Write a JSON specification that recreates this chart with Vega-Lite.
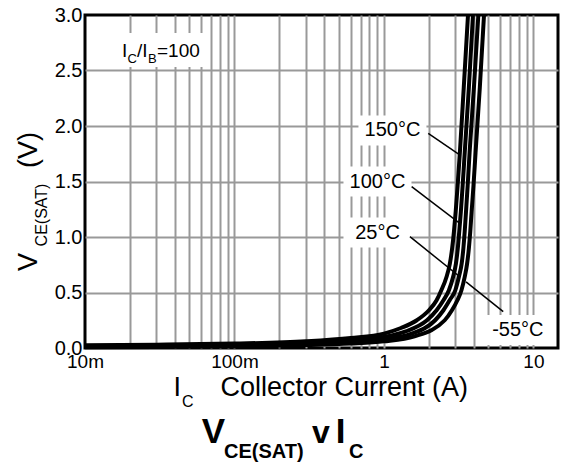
{
  "$schema": "https://vega.github.io/schema/vega-lite/v6.json",
  "width": 473,
  "height": 333,
  "autosize": {"type": "none"},
  "padding": {"left": 85, "top": 15, "right": 4, "bottom": 115},
  "background": "white",
  "config": {
    "view": {"stroke": "black", "strokeWidth": 3},
    "font": "Liberation Sans",
    "text": {"font": "Liberation Sans", "color": "black"}
  },
  "datasets": {
    "curves": [
      {"s": "150°C", "ic": 0.01, "v": 0.025}, {"s": "150°C", "ic": 0.03, "v": 0.03}, {"s": "150°C", "ic": 0.1, "v": 0.04}, {"s": "150°C", "ic": 0.3, "v": 0.06}, {"s": "150°C", "ic": 0.6, "v": 0.09}, {"s": "150°C", "ic": 1.0, "v": 0.13}, {"s": "150°C", "ic": 1.3, "v": 0.18}, {"s": "150°C", "ic": 1.66, "v": 0.25}, {"s": "150°C", "ic": 2.0, "v": 0.34}, {"s": "150°C", "ic": 2.25, "v": 0.43}, {"s": "150°C", "ic": 2.42, "v": 0.52}, {"s": "150°C", "ic": 2.62, "v": 0.64}, {"s": "150°C", "ic": 2.76, "v": 0.76}, {"s": "150°C", "ic": 2.86, "v": 0.9}, {"s": "150°C", "ic": 2.94, "v": 1.05}, {"s": "150°C", "ic": 3.02, "v": 1.23}, {"s": "150°C", "ic": 3.11, "v": 1.46}, {"s": "150°C", "ic": 3.22, "v": 1.76}, {"s": "150°C", "ic": 3.42, "v": 2.35}, {"s": "150°C", "ic": 3.65, "v": 3.0},
      {"s": "100°C", "ic": 0.01, "v": 0.018}, {"s": "100°C", "ic": 0.03, "v": 0.022}, {"s": "100°C", "ic": 0.1, "v": 0.03}, {"s": "100°C", "ic": 0.3, "v": 0.047}, {"s": "100°C", "ic": 0.6, "v": 0.07}, {"s": "100°C", "ic": 1.0, "v": 0.1}, {"s": "100°C", "ic": 1.4, "v": 0.15}, {"s": "100°C", "ic": 1.94, "v": 0.25}, {"s": "100°C", "ic": 2.25, "v": 0.34}, {"s": "100°C", "ic": 2.5, "v": 0.43}, {"s": "100°C", "ic": 2.72, "v": 0.52}, {"s": "100°C", "ic": 2.9, "v": 0.64}, {"s": "100°C", "ic": 3.03, "v": 0.76}, {"s": "100°C", "ic": 3.12, "v": 0.9}, {"s": "100°C", "ic": 3.19, "v": 1.05}, {"s": "100°C", "ic": 3.27, "v": 1.23}, {"s": "100°C", "ic": 3.36, "v": 1.46}, {"s": "100°C", "ic": 3.47, "v": 1.76}, {"s": "100°C", "ic": 3.7, "v": 2.35}, {"s": "100°C", "ic": 3.94, "v": 3.0},
      {"s": "25°C", "ic": 0.01, "v": 0.012}, {"s": "25°C", "ic": 0.03, "v": 0.016}, {"s": "25°C", "ic": 0.1, "v": 0.023}, {"s": "25°C", "ic": 0.3, "v": 0.036}, {"s": "25°C", "ic": 0.6, "v": 0.055}, {"s": "25°C", "ic": 1.0, "v": 0.08}, {"s": "25°C", "ic": 1.5, "v": 0.125}, {"s": "25°C", "ic": 2.2, "v": 0.25}, {"s": "25°C", "ic": 2.5, "v": 0.34}, {"s": "25°C", "ic": 2.75, "v": 0.43}, {"s": "25°C", "ic": 3.0, "v": 0.52}, {"s": "25°C", "ic": 3.17, "v": 0.64}, {"s": "25°C", "ic": 3.31, "v": 0.76}, {"s": "25°C", "ic": 3.4, "v": 0.9}, {"s": "25°C", "ic": 3.47, "v": 1.05}, {"s": "25°C", "ic": 3.54, "v": 1.23}, {"s": "25°C", "ic": 3.63, "v": 1.46}, {"s": "25°C", "ic": 3.74, "v": 1.76}, {"s": "25°C", "ic": 4.0, "v": 2.35}, {"s": "25°C", "ic": 4.28, "v": 3.0},
      {"s": "-55°C", "ic": 0.01, "v": 0.006}, {"s": "-55°C", "ic": 0.03, "v": 0.01}, {"s": "-55°C", "ic": 0.1, "v": 0.016}, {"s": "-55°C", "ic": 0.3, "v": 0.026}, {"s": "-55°C", "ic": 0.6, "v": 0.04}, {"s": "-55°C", "ic": 1.0, "v": 0.06}, {"s": "-55°C", "ic": 1.6, "v": 0.105}, {"s": "-55°C", "ic": 2.55, "v": 0.25}, {"s": "-55°C", "ic": 2.85, "v": 0.34}, {"s": "-55°C", "ic": 3.1, "v": 0.43}, {"s": "-55°C", "ic": 3.3, "v": 0.52}, {"s": "-55°C", "ic": 3.47, "v": 0.64}, {"s": "-55°C", "ic": 3.6, "v": 0.76}, {"s": "-55°C", "ic": 3.7, "v": 0.9}, {"s": "-55°C", "ic": 3.78, "v": 1.05}, {"s": "-55°C", "ic": 3.86, "v": 1.23}, {"s": "-55°C", "ic": 3.97, "v": 1.46}, {"s": "-55°C", "ic": 4.1, "v": 1.76}, {"s": "-55°C", "ic": 4.38, "v": 2.35}, {"s": "-55°C", "ic": 4.67, "v": 3.0}
    ],
    "labels": [
      {"t": "150°C", "ic": 1.14, "v": 1.96},
      {"t": "100°C", "ic": 0.905, "v": 1.5},
      {"t": "25°C", "ic": 0.905, "v": 1.04},
      {"t": "-55°C", "ic": 7.87, "v": 0.162}
    ],
    "leaders": [
      {"ic": 1.978, "v": 1.934, "ic2": 3.14, "v2": 1.748},
      {"ic": 1.532, "v": 1.453, "ic2": 3.22, "v2": 1.123},
      {"ic": 1.492, "v": 1.003, "ic2": 3.22, "v2": 0.642},
      {"ic": 3.54, "v": 0.595, "ic2": 6.28, "v2": 0.327}
    ]
  },
  "layer": [
    {
      "data": {"values": [{"ic": 0.031, "v": 2.685}]},
      "mark": {"type": "point", "shape": "M-1,-0.366H1V0.366H-1Z", "size": 8649, "filled": true, "fill": "white", "opacity": 1, "strokeWidth": 0},
      "encoding": {
        "x": {
          "field": "ic", "type": "quantitative",
          "scale": {"type": "log", "domain": [0.01, 14.6], "nice": false},
          "axis": {
            "title": null,
            "values": [0.01, 0.02, 0.03, 0.04, 0.05, 0.06, 0.07, 0.08, 0.09, 0.1, 0.2, 0.3, 0.4, 0.5, 0.6, 0.7, 0.8, 0.9, 1, 2, 3, 4, 5, 6, 7, 8, 9, 10],
            "labelExpr": "datum.value == 0.01 ? '10m' : datum.value == 0.1 ? '100m' : datum.value == 1 ? '1' : datum.value == 10 ? '10' : ''",
            "grid": true, "gridColor": "#999999", "gridWidth": 2,
            "gridOpacity": {"condition": {"test": "datum.value == 0.01", "value": 0}, "value": 1},
            "ticks": false, "domain": false,
            "labelFont": "Liberation Sans", "labelFontSize": 19, "labelColor": "black",
            "labelPadding": 4, "labelFlush": false, "labelOverlap": false, "labelBaseline": "top"
          }
        },
        "y": {
          "field": "v", "type": "quantitative",
          "scale": {"domain": [0, 3], "nice": false},
          "axis": {
            "title": null,
            "values": [0, 0.25, 0.5, 0.75, 1, 1.25, 1.5, 1.75, 2, 2.25, 2.5, 2.75, 3],
            "format": ".1f",
            "labelExpr": "datum.value % 0.5 == 0 ? datum.label : ''",
            "grid": true, "gridColor": "#999999", "gridWidth": 2,
            "gridOpacity": {"condition": {"test": "datum.value == 0 || datum.value == 3", "value": 0}, "value": 1},
            "ticks": false, "domain": false,
            "labelFont": "Liberation Sans", "labelFontSize": 20, "labelColor": "black",
            "labelPadding": 3, "labelFlush": false, "labelOverlap": false, "labelBaseline": "middle"
          }
        }
      }
    },
    {
      "data": {"name": "labels"},
      "mark": {"type": "point", "shape": "M-1,-0.44H1V0.44H-1Z", "size": 4624, "filled": true, "fill": "white", "opacity": 1, "strokeWidth": 0},
      "encoding": {
        "x": {"field": "ic", "type": "quantitative"},
        "y": {"field": "v", "type": "quantitative"}
      }
    },
    {
      "data": {"name": "curves"},
      "mark": {"type": "line", "color": "black", "strokeWidth": 4, "interpolate": "monotone"},
      "encoding": {
        "x": {"field": "ic", "type": "quantitative"},
        "y": {"field": "v", "type": "quantitative"},
        "detail": {"field": "s", "type": "nominal"}
      }
    },
    {
      "data": {"name": "leaders"},
      "mark": {"type": "rule", "color": "black", "strokeWidth": 1.5},
      "encoding": {
        "x": {"field": "ic", "type": "quantitative"},
        "y": {"field": "v", "type": "quantitative"},
        "x2": {"field": "ic2"},
        "y2": {"field": "v2"}
      }
    },
    {
      "data": {"name": "labels"},
      "mark": {"type": "text", "fontSize": 20, "align": "center", "baseline": "middle"},
      "encoding": {
        "x": {"field": "ic", "type": "quantitative"},
        "y": {"field": "v", "type": "quantitative"},
        "text": {"field": "t"}
      }
    },
    {
      "data": {"values": [{"t": "I", "ic": 0.01768, "v": 2.622}, {"t": "/I", "ic": 0.02227, "v": 2.622}, {"t": "=100", "ic": 0.03031, "v": 2.622}]},
      "mark": {"type": "text", "fontSize": 19, "align": "left", "baseline": "alphabetic"},
      "encoding": {
        "x": {"field": "ic", "type": "quantitative"},
        "y": {"field": "v", "type": "quantitative"},
        "text": {"field": "t"}
      }
    },
    {
      "data": {"values": [{"t": "C", "ic": 0.01924, "v": 2.568}, {"t": "B", "ic": 0.02639, "v": 2.568}]},
      "mark": {"type": "text", "fontSize": 13, "align": "left", "baseline": "alphabetic"},
      "encoding": {
        "x": {"field": "ic", "type": "quantitative"},
        "y": {"field": "v", "type": "quantitative"},
        "text": {"field": "t"}
      }
    },
    {
      "data": {"values": [{"t": "I", "ic": 0.03908, "v": -0.4324}, {"t": "Collector Current (A)", "ic": 0.08048, "v": -0.4324}]},
      "mark": {"type": "text", "fontSize": 27, "align": "left", "baseline": "alphabetic"},
      "encoding": {
        "x": {"field": "ic", "type": "quantitative"},
        "y": {"field": "v", "type": "quantitative"},
        "text": {"field": "t"}
      }
    },
    {
      "data": {"values": [{"t": "C", "ic": 0.04456, "v": -0.5315}]},
      "mark": {"type": "text", "fontSize": 16, "align": "left", "baseline": "alphabetic"},
      "encoding": {
        "x": {"field": "ic", "type": "quantitative"},
        "y": {"field": "v", "type": "quantitative"},
        "text": {"field": "t"}
      }
    },
    {
      "data": {"values": [{"t": "V", "ic": 0.004775, "v": 0.775}, {"t": "(V)", "ic": 0.004775, "v": 1.784}]},
      "mark": {"type": "text", "fontSize": 27, "align": "center", "baseline": "alphabetic", "angle": 270},
      "encoding": {
        "x": {"field": "ic", "type": "quantitative"},
        "y": {"field": "v", "type": "quantitative"},
        "text": {"field": "t"}
      }
    },
    {
      "data": {"values": [{"t": "CE(SAT)", "ic": 0.005568, "v": 1.198}]},
      "mark": {"type": "text", "fontSize": 16, "align": "center", "baseline": "alphabetic", "angle": 270},
      "encoding": {
        "x": {"field": "ic", "type": "quantitative"},
        "y": {"field": "v", "type": "quantitative"},
        "text": {"field": "t"}
      }
    },
    {
      "data": {"values": [{"t": "V", "ic": 0.0603, "v": -0.856}, {"t": "I", "ic": 0.476, "v": -0.856}]},
      "mark": {"type": "text", "fontSize": 35, "fontWeight": "bold", "align": "left", "baseline": "alphabetic"},
      "encoding": {
        "x": {"field": "ic", "type": "quantitative"},
        "y": {"field": "v", "type": "quantitative"},
        "text": {"field": "t"}
      }
    },
    {
      "data": {"values": [{"t": "v", "ic": 0.3299, "v": -0.856}]},
      "mark": {"type": "text", "fontSize": 32, "fontWeight": "bold", "align": "left", "baseline": "alphabetic"},
      "encoding": {
        "x": {"field": "ic", "type": "quantitative"},
        "y": {"field": "v", "type": "quantitative"},
        "text": {"field": "t"}
      }
    },
    {
      "data": {"values": [{"t": "CE(SAT)", "ic": 0.08509, "v": -0.991}, {"t": "C", "ic": 0.5834, "v": -0.991}]},
      "mark": {"type": "text", "fontSize": 20, "fontWeight": "bold", "align": "left", "baseline": "alphabetic"},
      "encoding": {
        "x": {"field": "ic", "type": "quantitative"},
        "y": {"field": "v", "type": "quantitative"},
        "text": {"field": "t"}
      }
    }
  ]
}
